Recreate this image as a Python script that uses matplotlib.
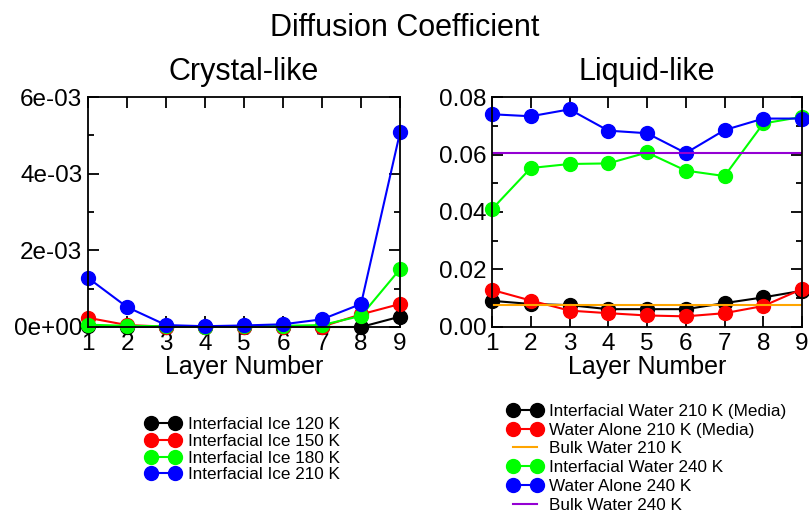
import matplotlib
matplotlib.use("Agg")
import matplotlib.pyplot as plt
from matplotlib.ticker import MultipleLocator, FuncFormatter

plt.rcParams['font.family'] = ['Liberation Sans', 'DejaVu Sans']

layers = [1, 2, 3, 4, 5, 6, 7, 8, 9]

# crystal-like (interfacial ice)
ice120 = [0.00002, 0.00001, 0.00001, 0.00001, 0.00001, 0.00001, 0.0, 0.0, 0.00027]
ice150 = [0.00024, 0.00005, 0.00001, 0.00001, 0.00001, 0.00001, 0.00001, 0.00033, 0.0006]
ice180 = [0.00006, 0.00003, 0.00002, 0.00001, 0.00002, 0.00003, 0.00005, 0.00029, 0.00151]
ice210 = [0.00128, 0.00052, 0.00005, 0.00002, 0.00004, 0.00007, 0.0002, 0.0006, 0.00508]

# liquid-like
water210_int = [0.0091, 0.0080, 0.0076, 0.0062, 0.0062, 0.0062, 0.0083, 0.0103, 0.0126]
water210_alone = [0.0129, 0.0092, 0.0057, 0.0048, 0.0040, 0.0037, 0.0048, 0.0073, 0.0132]
water240_int = [0.0410, 0.0553, 0.0567, 0.0569, 0.0607, 0.0544, 0.0525, 0.0708, 0.0731]
water240_alone = [0.0740, 0.0733, 0.0757, 0.0683, 0.0674, 0.0605, 0.0685, 0.0725, 0.0725]
bulk210 = 0.0076
bulk240 = 0.0604

orange = '#ffa500'
violet = '#9400d3'

fig = plt.figure(figsize=(8.09, 5.13), dpi=100)
ax1 = fig.add_axes([0.1088, 0.3626, 0.3857, 0.4483])
ax2 = fig.add_axes([0.6082, 0.3626, 0.3832, 0.4483])

def style(ax):
    ax.set_xlim(1, 9)
    ax.xaxis.set_major_locator(MultipleLocator(1))
    ax.tick_params(which='both', direction='in', top=True, right=True, width=1.3)
    ax.tick_params(which='major', length=8, labelsize=17.5, pad=4)
    ax.tick_params(which='minor', length=4)
    for s in ax.spines.values():
        s.set_linewidth(1.3)
    ax.set_xlabel('Layer Number', fontsize=18, labelpad=0)

ms = 10
lw = 1.5
kw = dict(marker='o', markersize=ms, linewidth=lw, clip_on=False)

ax1.plot(layers, ice120, color='black', label='Interfacial Ice 120 K', **kw)
ax1.plot(layers, ice150, color='red', label='Interfacial Ice 150 K', **kw)
ax1.plot(layers, ice180, color='#00ff00', label='Interfacial Ice 180 K', **kw)
ax1.plot(layers, ice210, color='blue', label='Interfacial Ice 210 K', **kw)
ax1.set_ylim(0, 0.006)
ax1.yaxis.set_major_locator(MultipleLocator(0.002))
ax1.yaxis.set_minor_locator(MultipleLocator(0.001))
ax1.yaxis.set_major_formatter(FuncFormatter(lambda v, p: '0e+00' if abs(v) < 1e-12 else '%.0e' % v))
style(ax1)
ax1.set_title('Crystal-like', fontsize=22, pad=12)

ax2.plot(layers, water210_int, color='black', label='Interfacial Water 210 K (Media)', **kw)
ax2.plot(layers, water210_alone, color='red', label='Water Alone 210 K (Media)', **kw)
ax2.axhline(bulk210, color=orange, linewidth=lw, label='Bulk Water 210 K')
ax2.plot(layers, water240_int, color='#00ff00', label='Interfacial Water 240 K', **kw)
ax2.plot(layers, water240_alone, color='blue', label='Water Alone 240 K', **kw)
ax2.axhline(bulk240, color=violet, linewidth=lw, label='Bulk Water 240 K')
ax2.set_ylim(0, 0.08)
ax2.yaxis.set_major_locator(MultipleLocator(0.02))
ax2.yaxis.set_minor_locator(MultipleLocator(0.01))
ax2.yaxis.set_major_formatter(FuncFormatter(lambda v, p: '%.2f' % v))
style(ax2)
ax2.set_title('Liquid-like', fontsize=22, pad=12)

fig.suptitle('Diffusion Coefficient', fontsize=22, y=0.975)

leg_kw = dict(frameon=False, numpoints=2, fontsize=12.3, handlelength=2.0,
              handletextpad=0.45, borderaxespad=0)
ax1.legend(loc='upper left', bbox_to_anchor=(0.172, 0.2), bbox_transform=fig.transFigure,
           labelspacing=0.1, **leg_kw)
ax2.legend(loc='upper left', bbox_to_anchor=(0.619, 0.226), bbox_transform=fig.transFigure,
           labelspacing=0.22, **leg_kw)

fig.savefig('out.png', dpi=100)
